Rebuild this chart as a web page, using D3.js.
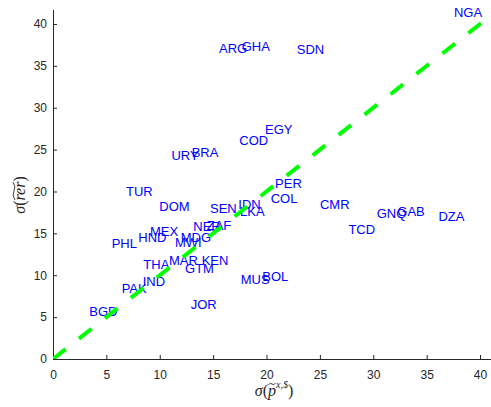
<!DOCTYPE html>
<html>
<head>
<meta charset="utf-8">
<script src="https://cdn.jsdelivr.net/npm/d3@7"></script>
<style>
  html, body { margin: 0; padding: 0; background: #fff; }
  svg { display: block; }
</style>
</head>
<body>
<svg id="chart" width="491" height="407"></svg>
<script>
// Country codes with price volatility (x) and real exchange rate volatility (y)
const countries = ["NGA","ARG","GHA","SDN","EGY","COD","BRA","URY","PER","COL","CMR","GNQ","GAB","DZA","TCD","BOL","MUS","JOR","TUR","DOM","SEN","IDN","LKA","NER","ZAF","MEX","HND","PHL","MDG","MWI","THA","MAR","KEN","GTM","IND","PAK","BGD"];
const sigmaP   = [37.56,15.55,17.67,22.83,19.86,17.45,12.99,11.10,20.80,20.39,25.01,30.32,32.25,36.10,27.67,19.60,17.58,12.90,6.84,9.96,14.71,17.36,17.52,13.14,14.40,9.09,7.99,5.50,11.96,11.43,8.46,10.87,13.93,12.37,8.40,6.43,3.40];
const sigmaRER = [41.40,37.10,37.29,36.98,27.42,26.15,24.70,24.36,20.95,19.15,18.47,17.40,17.59,16.99,15.48,9.91,9.55,6.53,20.06,18.19,18.00,18.43,17.64,15.88,15.96,15.28,14.53,13.81,14.57,13.97,11.34,11.74,11.74,10.87,9.23,8.44,5.65];
const xTicks = [0,5,10,15,20,25,30,35,40];
const yTicks = [0,5,10,15,20,25,30,35,40];
const diagonal = [0, 41];

const svg = d3.select("#chart");
const axisColor = "#262626";
const sans = "'Liberation Sans', Arial, Helvetica, sans-serif";
const serif = "'Liberation Serif', 'Times New Roman', serif";

const x = d3.scaleLinear().domain([0, 41]).range([53, 490.7]);
const y = d3.scaleLinear().domain([0, 41.67]).range([359, 10]);

// Axes: ticks point into the plot area
const xAxis = d3.axisBottom(x).tickValues(xTicks).tickSizeInner(-4).tickSizeOuter(0).tickPadding(11);
const yAxis = d3.axisLeft(y).tickValues(yTicks).tickSizeInner(-4).tickSizeOuter(0).tickPadding(6);

const gx = svg.append("g").attr("transform", `translate(0,${y(0)})`).call(xAxis);
const gy = svg.append("g").attr("transform", `translate(${x(0)},0)`).call(yAxis);
[gx, gy].forEach(g => {
  g.select(".domain").attr("stroke", axisColor).attr("stroke-width", 1);
  g.selectAll(".tick line").attr("stroke", axisColor);
  g.selectAll(".tick text").attr("fill", axisColor).attr("font-family", sans).attr("font-size", 12);
});
gx.select(".domain").attr("d", `M${x(0)},0.5H491`);
gy.select(".domain").attr("d", `M0.5,${y(0)}V10`);

// Country labels placed at their data points
svg.append("g").selectAll("text")
  .data(countries)
  .join("text")
  .attr("x", (d, i) => x(sigmaP[i]))
  .attr("y", (d, i) => y(sigmaRER[i]))
  .attr("dy", "0.35em")
  .attr("font-family", sans)
  .attr("font-size", 13)
  .attr("fill", "#0000ff")
  .text(d => d);

// 45-degree reference line
svg.append("clipPath").attr("id", "plotclip")
  .append("rect").attr("x", 53).attr("y", 0).attr("width", 438).attr("height", 359);
svg.append("line")
  .attr("clip-path", "url(#plotclip)")
  .attr("x1", x(diagonal[0])).attr("y1", y(diagonal[0]))
  .attr("x2", x(diagonal[1])).attr("y2", y(diagonal[1]))
  .attr("stroke", "#00ff00")
  .attr("stroke-width", 4)
  .attr("stroke-dasharray", "16,17");

// Tilde accent drawn over a span of characters
function tilde(parent, textNode, from, to, lift) {
  const a = textNode.getStartPositionOfChar(from);
  const b = textNode.getEndPositionOfChar(to);
  const x0 = a.x + 0.5, x1 = b.x - 0.5, w = x1 - x0;
  const yb = a.y - lift;
  parent.append("path")
    .attr("d", `M${x0},${yb + 1} Q${x0 + w / 4},${yb - 2.2} ${x0 + w / 2},${yb} T${x1},${yb - 1}`)
    .attr("fill", "none").attr("stroke", axisColor).attr("stroke-width", 0.9);
}

// x-axis title: sigma(p~^{x,$})
const xl = svg.append("g");
const xt = xl.append("text")
  .attr("x", 274).attr("y", 396)
  .attr("text-anchor", "middle")
  .attr("font-family", serif).attr("font-size", 16).attr("fill", axisColor);
xt.append("tspan").attr("font-style", "italic").text("σ");
xt.append("tspan").text("(");
xt.append("tspan").attr("font-style", "italic").text("p");
xt.append("tspan").attr("font-size", 10).attr("dy", -8).attr("font-style", "italic").text("x,$");
xt.append("tspan").attr("dy", 8).text(")");
tilde(xl, xt.node(), 2, 2, 12);

// y-axis title: sigma(rer~)
const yl = svg.append("g").attr("transform", "translate(25,195) rotate(-90)");
const yt = yl.append("text")
  .attr("x", 0).attr("y", 0)
  .attr("text-anchor", "middle")
  .attr("font-family", serif).attr("font-size", 16).attr("fill", axisColor);
yt.append("tspan").attr("font-style", "italic").text("σ");
yt.append("tspan").text("(");
yt.append("tspan").attr("font-style", "italic").text("rer");
yt.append("tspan").text(")");
tilde(yl, yt.node(), 2, 4, 11);
</script>
</body>
</html>
